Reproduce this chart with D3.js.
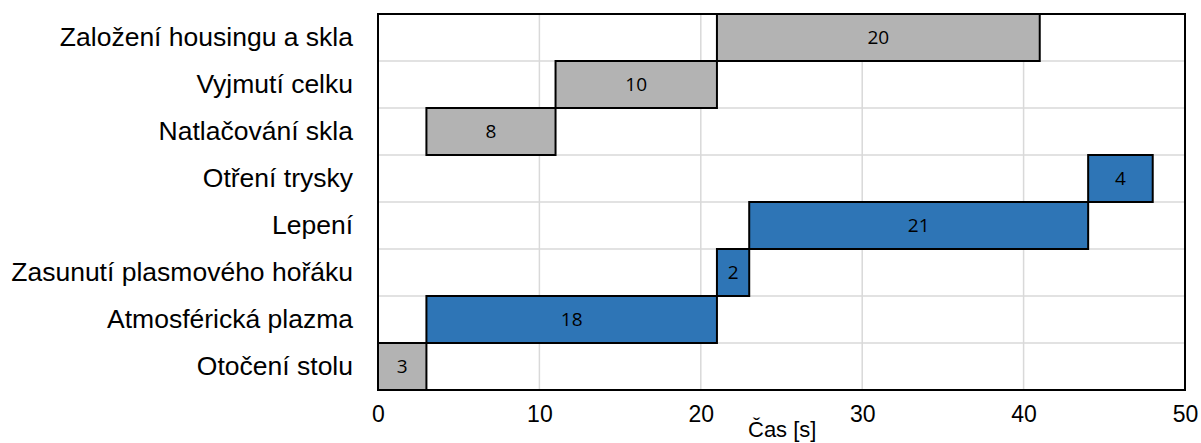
<!DOCTYPE html>
<html>
<head>
<meta charset="utf-8">
<script src="https://cdn.jsdelivr.net/npm/d3@7"></script>
<style>
html, body { margin: 0; padding: 0; background: #fff; }
svg { display: block; }
</style>
</head>
<body>
<svg id="chart" width="1201" height="443"></svg>
<script>
const categories = ["Založení housingu a skla", "Vyjmutí celku", "Natlačování skla", "Otření trysky", "Lepení", "Zasunutí plasmového hořáku", "Atmosférická plazma", "Otočení stolu"];
const starts = [21, 11, 3, 44, 23, 21, 3, 0];
const durations = [20, 10, 8, 4, 21, 2, 18, 3];
const groups = ["gray", "gray", "gray", "blue", "blue", "blue", "blue", "gray"];
const xTicks = [0, 10, 20, 30, 40, 50];
const xTitle = "Čas [s]";

const colors = { gray: "#b3b3b3", blue: "#2e75b6" };
const svg = d3.select("#chart");
const W = 1201, H = 443;
const m = { left: 378, right: W - 1185, top: 14, bottom: H - 390 };
const sans = "'Liberation Sans', Arial, sans-serif";

const x = d3.scaleLinear().domain([0, 50]).range([m.left, W - m.right]);
const y = d3.scaleBand().domain(categories).range([m.top, H - m.bottom]).padding(0);

// vertical gridlines
svg.append("g").selectAll("line").data(xTicks).join("line")
  .attr("x1", d => x(d)).attr("x2", d => x(d))
  .attr("y1", m.top).attr("y2", H - m.bottom)
  .attr("stroke", "#d9d9d9").attr("stroke-width", 1.5);
// horizontal gridlines at band boundaries
svg.append("g").selectAll("line").data(categories).join("line")
  .attr("x1", m.left).attr("x2", W - m.right)
  .attr("y1", d => y(d)).attr("y2", d => y(d))
  .attr("stroke", "#d9d9d9").attr("stroke-width", 1.5);

// bars
const rows = categories.map((c, i) => ({ c, s: starts[i], d: durations[i], g: groups[i] }));
svg.append("g").selectAll("rect").data(rows).join("rect")
  .attr("x", d => x(d.s)).attr("y", d => y(d.c))
  .attr("width", d => x(d.s + d.d) - x(d.s)).attr("height", y.bandwidth())
  .attr("fill", d => colors[d.g]).attr("stroke", "#000").attr("stroke-width", 2);

svg.append("g").selectAll("text").data(rows).join("text")
  .attr("x", d => (x(d.s) + x(d.s + d.d)) / 2)
  .attr("y", d => y(d.c) + y.bandwidth() / 2)
  .attr("dy", "0.36em").attr("text-anchor", "middle")
  .attr("font-family", "'Open Sans', sans-serif").attr("font-size", 19)
  .attr("fill", "#000").text(d => d.d);

// frame
svg.append("rect").attr("x", m.left).attr("y", m.top)
  .attr("width", W - m.right - m.left).attr("height", H - m.bottom - m.top)
  .attr("fill", "none").attr("stroke", "#000").attr("stroke-width", 2);

// x axis
const xAxis = svg.append("g").attr("transform", `translate(0,${H - m.bottom})`)
  .call(d3.axisBottom(x).tickValues(xTicks).tickSize(0).tickPadding(16));
xAxis.select(".domain").remove();
xAxis.selectAll("text").attr("font-family", sans).attr("font-size", 23).attr("fill", "#000");

// y axis
const yAxis = svg.append("g").attr("transform", `translate(${m.left},0)`)
  .call(d3.axisLeft(y).tickSize(0).tickPadding(25));
yAxis.select(".domain").remove();
yAxis.selectAll("text").attr("font-family", sans).attr("font-size", 26.5).attr("fill", "#000");

svg.append("text").attr("x", 748).attr("y", 437).attr("text-anchor", "start")
  .attr("font-family", sans).attr("font-size", 22).attr("fill", "#000")
  .text(xTitle);
</script>
</body>
</html>
